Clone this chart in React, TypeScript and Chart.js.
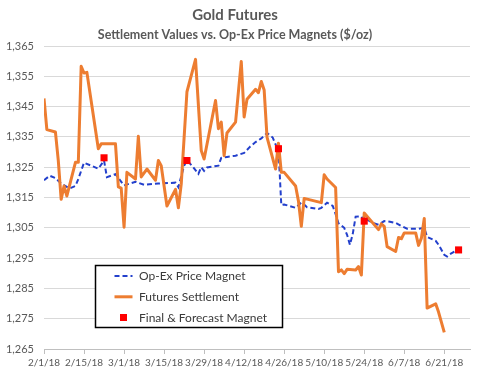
import React, { useEffect, useRef } from 'react';
import { Chart, registerables } from 'chart.js';

Chart.register(...registerables);

const TITLE = 'Gold Futures';
const SUBTITLE = 'Settlement Values vs. Op-Ex Price Magnets ($/oz)';
const AXIS_START = '2/1/18';
const AXIS_END = '6/30/18';
const TICK_STEP_DAYS = 14;
const Y_MIN = 1265;
const Y_MAX = 1365;
const Y_STEP = 10;

const magnetLabel = 'Op-Ex Price Magnet';
const magnetDates = [
  '2/1/18', '2/3/18', '2/5/18', '2/7/18', '2/10/18', '2/12/18', '2/13/18', '2/15/18', '2/20/18', '2/22/18',
  '2/23/18', '2/26/18', '3/1/18', '3/5/18', '3/8/18', '3/13/18', '3/19/18', '3/20/18', '3/22/18', '3/23/18',
  '3/25/18', '3/27/18', '3/28/18', '3/29/18', '3/30/18', '4/1/18', '4/3/18', '4/4/18', '4/6/18', '4/9/18',
  '4/12/18', '4/14/18', '4/16/18', '4/18/18', '4/20/18', '4/22/18', '4/23/18', '4/24/18', '4/25/18', '4/26/18',
  '4/30/18', '5/2/18', '5/3/18', '5/4/18', '5/8/18', '5/9/18', '5/11/18', '5/13/18', '5/14/18', '5/15/18',
  '5/17/18', '5/18/18', '5/19/18', '5/20/18', '5/21/18', '5/23/18', '5/24/18', '5/25/18', '5/27/18', '5/29/18',
  '5/31/18', '6/2/18', '6/4/18', '6/6/18', '6/8/18', '6/12/18', '6/14/18', '6/15/18', '6/18/18', '6/19/18',
  '6/21/18', '6/22/18', '6/23/18', '6/25/18', '6/26/18',
];
const magnetValues = [
  1320.7, 1322.2, 1321.4, 1319.6, 1318.0, 1318.8, 1321.1, 1326.5, 1324.5, 1327.2,
  1321.7, 1322.7, 1319.0, 1320.2, 1319.2, 1319.6, 1319.9, 1318.4, 1325.5, 1327.3,
  1325.2, 1322.8, 1325.0, 1323.8, 1324.9, 1325.2, 1325.5, 1328.1, 1328.4, 1328.8,
  1329.7, 1331.7, 1333.3, 1334.5, 1336.3, 1334.8, 1332.5, 1331.1, 1312.5, 1312.7,
  1311.6, 1313.3, 1312.7, 1311.8, 1311.2, 1311.6, 1313.3, 1312.2, 1309.5, 1306.5,
  1305.0, 1302.7, 1299.4, 1303.0, 1308.7, 1308.8, 1307.2, 1307.7, 1306.6, 1306.0,
  1307.2, 1307.0, 1306.6, 1305.6, 1304.7, 1304.7, 1305.0, 1302.0, 1300.7, 1299.4,
  1296.1, 1295.5, 1296.3, 1297.4, 1297.7,
];

const settleLabel = 'Futures Settlement';
const settleDates = [
  '2/1/18', '2/2/18', '2/5/18', '2/6/18', '2/7/18', '2/8/18', '2/9/18', '2/12/18', '2/13/18', '2/14/18',
  '2/15/18', '2/16/18', '2/20/18', '2/21/18', '2/26/18', '2/27/18', '2/28/18', '3/1/18', '3/2/18', '3/5/18',
  '3/6/18', '3/7/18', '3/9/18', '3/12/18', '3/13/18', '3/14/18', '3/16/18', '3/19/18', '3/20/18', '3/21/18',
  '3/23/18', '3/26/18', '3/28/18', '3/29/18', '4/2/18', '4/3/18', '4/4/18', '4/5/18', '4/6/18', '4/9/18',
  '4/11/18', '4/12/18', '4/13/18', '4/16/18', '4/17/18', '4/18/18', '4/19/18', '4/20/18', '4/23/18', '4/24/18',
  '4/25/18', '4/26/18', '4/30/18', '5/1/18', '5/2/18', '5/3/18', '5/9/18', '5/10/18', '5/11/18', '5/14/18',
  '5/15/18', '5/16/18', '5/17/18', '5/18/18', '5/21/18', '5/22/18', '5/23/18', '5/24/18', '5/29/18', '5/30/18',
  '5/31/18', '6/1/18', '6/4/18', '6/5/18', '6/6/18', '6/7/18', '6/11/18', '6/12/18', '6/13/18', '6/14/18',
  '6/15/18', '6/18/18', '6/19/18', '6/21/18',
];
const settleValues = [
  1347.7, 1337.4, 1336.6, 1327.2, 1314.4, 1318.8, 1315.5, 1326.6, 1326.6, 1358.3,
  1356.1, 1356.3, 1331.1, 1332.7, 1332.7, 1318.5, 1318.1, 1305.2, 1323.3, 1321.1,
  1335.2, 1321.8, 1324.4, 1320.7, 1327.2, 1325.5, 1312.2, 1317.7, 1311.6, 1319.4,
  1349.9, 1360.6, 1330.5, 1327.7, 1347.0, 1337.7, 1339.9, 1328.8, 1336.3, 1339.9,
  1359.9, 1341.6, 1347.4, 1350.7, 1349.6, 1353.3, 1350.5, 1334.9, 1324.4, 1332.9,
  1323.3, 1323.3, 1318.8, 1313.8, 1305.5, 1314.7, 1313.3, 1322.5, 1321.1, 1318.3,
  1290.5, 1291.1, 1289.9, 1291.3, 1291.1, 1292.2, 1289.4, 1309.9, 1304.4, 1306.3,
  1305.5, 1298.8, 1297.2, 1301.8, 1301.4, 1303.3, 1303.3, 1299.2, 1301.6, 1308.1,
  1278.5, 1279.9, 1277.2, 1270.5,
];

const opexLabel = 'Final & Forecast Magnet';
const opexDates = ['2/22/18', '3/23/18', '4/24/18', '5/24/18', '6/26/18'];
const opexValues = [1328.1, 1327.2, 1331.1, 1307.2, 1297.7];

const FONT = 'Lato, "Open Sans", sans-serif';
const DAY_MS = 86400000;

function parseDate(s: string): number {
  const [m, d, y] = s.split('/').map(Number);
  return Date.UTC(2000 + y, m - 1, d);
}
const BASE = parseDate(AXIS_START);
function toDay(s: string): number {
  return Math.round((parseDate(s) - BASE) / DAY_MS);
}
function dayLabel(day: number): string {
  const dt = new Date(BASE + day * DAY_MS);
  return `${dt.getUTCMonth() + 1}/${dt.getUTCDate()}/${String(dt.getUTCFullYear()).slice(2)}`;
}
function points(dates: string[], values: number[]) {
  return dates.map((d, i) => ({ x: toDay(d), y: values[i] }));
}

const boxLegend = {
  id: 'boxLegend',
  afterDatasetsDraw(chart: any) {
    const { ctx, chartArea } = chart;
    const x0 = Math.round(chartArea.left + 51) + 0.5;
    const y0 = Math.round(chartArea.top + 219) + 0.5;
    const w = 187;
    const h = 62;
    ctx.save();
    ctx.fillStyle = '#ffffff';
    ctx.fillRect(x0, y0, w, h);
    ctx.strokeStyle = '#000000';
    ctx.lineWidth = 1.5;
    ctx.strokeRect(x0, y0, w, h);
    const rowY = [10.5, 31.3, 52];
    chart.data.datasets.forEach((ds: any, i: number) => {
      const cy = y0 + rowY[i];
      const lx1 = x0 + 19;
      const lx2 = x0 + 37;
      if (ds.showLine === false) {
        ctx.fillStyle = ds.pointBackgroundColor;
        ctx.fillRect((lx1 + lx2) / 2 - 3.5, cy - 3.5, 7, 7);
      } else {
        ctx.strokeStyle = ds.borderColor;
        ctx.lineWidth = ds.borderWidth;
        ctx.setLineDash(ds.borderDash || []);
        ctx.beginPath();
        ctx.moveTo(lx1, cy);
        ctx.lineTo(lx2, cy);
        ctx.stroke();
        ctx.setLineDash([]);
      }
      ctx.fillStyle = '#3A3A3A';
      ctx.font = `12px ${FONT}`;
      ctx.textBaseline = 'middle';
      ctx.textAlign = 'left';
      ctx.fillText(ds.label, x0 + 43.5, cy + 0.5);
    });
    ctx.restore();
  },
};

export default function App() {
  const canvasRef = useRef<HTMLCanvasElement | null>(null);

  useEffect(() => {
    const canvas = canvasRef.current;
    if (!canvas) return;
    const chart = new Chart(canvas, {
      type: 'line',
      data: {
        datasets: [
          {
            label: magnetLabel,
            data: points(magnetDates, magnetValues),
            borderColor: '#2340CC',
            borderWidth: 2,
            borderDash: [5, 3],
            pointRadius: 0,
            tension: 0,
            order: 3,
          },
          {
            label: settleLabel,
            data: points(settleDates, settleValues),
            borderColor: '#ED7D31',
            borderWidth: 3,
            pointRadius: 0,
            tension: 0,
            borderJoinStyle: 'round',
            order: 2,
          },
          {
            label: opexLabel,
            data: points(opexDates, opexValues),
            showLine: false,
            pointStyle: 'rect',
            pointRadius: 5,
            pointBackgroundColor: '#FF0000',
            pointBorderColor: '#FF0000',
            pointBorderWidth: 0,
            order: 1,
          },
        ],
      },
      options: {
        responsive: false,
        animation: false,
        layout: { padding: { left: 0, right: 12, top: 0, bottom: 0 } },
        plugins: {
          legend: { display: false },
          tooltip: { enabled: false },
          title: {
            display: true,
            text: TITLE,
            color: '#595959',
            font: { family: FONT, size: 15, weight: 'bold' },
            padding: { top: 6, bottom: 0 },
          },
          subtitle: {
            display: true,
            text: SUBTITLE,
            color: '#595959',
            font: { family: FONT, size: 12.5, weight: 'bold' },
            padding: { top: 3, bottom: 4 },
          },
        },
        scales: {
          x: {
            type: 'linear',
            min: 0,
            max: toDay(AXIS_END),
            border: { display: true, color: '#BFBFBF', width: 1 },
            grid: { display: true, drawOnChartArea: false, drawTicks: true, tickLength: 5, color: '#BFBFBF' },
            ticks: {
              stepSize: TICK_STEP_DAYS,
              includeBounds: false,
              autoSkip: false,
              maxRotation: 0,
              color: '#595959',
              font: { family: FONT, size: 10 },
              padding: 3,
              callback: (v: any) => dayLabel(Number(v)),
            },
          },
          y: {
            min: Y_MIN,
            max: Y_MAX,
            border: { display: false },
            grid: { color: '#D9D9D9', drawTicks: false, lineWidth: 1 },
            ticks: {
              stepSize: Y_STEP,
              color: '#595959',
              font: { family: FONT, size: 11 },
              padding: 10,
              callback: (v: any) => Number(v).toLocaleString('en-US'),
            },
            afterFit: (scale: any) => {
              scale.width = 44;
            },
          },
        },
      },
      plugins: [boxLegend],
    });
    return () => chart.destroy();
  }, []);

  return (
    <div style={{ position: 'fixed', left: 0, top: 0, width: 482, height: 372, background: '#ffffff' }}>
      <canvas ref={canvasRef} width={482} height={372} style={{ display: 'block' }} />
    </div>
  );
}
